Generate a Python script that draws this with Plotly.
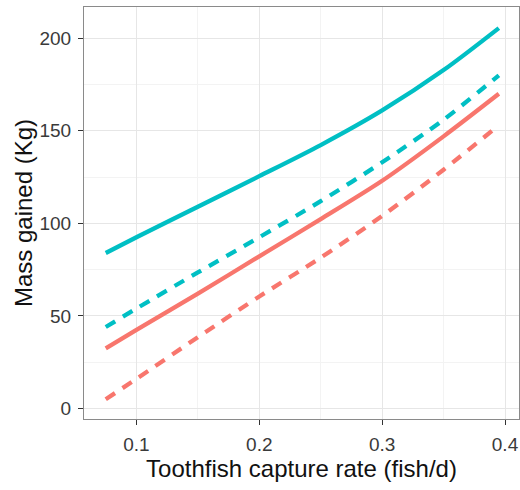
import plotly.graph_objects as go

capture_rate = [0.075, 0.1, 0.15, 0.2, 0.25, 0.3, 0.35, 0.395]
cyan_solid = [84, 92.5, 109, 125.5, 142.3, 161, 182.8, 205.5]
cyan_dashed = [44, 54, 73.5, 92.5, 112, 133, 156, 180]
red_solid = [32.5, 42.5, 62, 82.2, 102.3, 123, 147, 170]
red_dashed = [5, 16, 38.5, 60.5, 81.5, 104, 129, 153]

x_ticks = [0.1, 0.2, 0.3, 0.4]
x_tick_labels = ["0.1", "0.2", "0.3", "0.4"]
y_ticks = [0, 50, 100, 150, 200]
y_tick_labels = ["0", "50", "100", "150", "200"]

RED = "#F8766D"
CYAN = "#00BFC4"

series = [
    (cyan_solid, CYAN, "solid"),
    (cyan_dashed, CYAN, "11px,9px"),
    (red_solid, RED, "solid"),
    (red_dashed, RED, "11px,9px"),
]

fig = go.Figure()
for ys, col, dash in series:
    fig.add_trace(go.Scatter(
        x=capture_rate, y=ys, mode="lines",
        line=dict(color=col, width=4.3, dash=dash, shape="spline", smoothing=0.8),
        showlegend=False, hoverinfo="skip",
    ))

FONT = "Liberation Sans, Arial, sans-serif"
axis_common = dict(
    showline=True, linecolor="#8a8a8a", linewidth=1, mirror=True,
    ticks="outside", ticklen=5, tickcolor="#333333", tickwidth=1,
    gridcolor="#e6e6e6", gridwidth=1, zeroline=False, automargin=False,
    ticklabelstandoff=3,
    tickfont=dict(family=FONT, size=19, color="#3a3a3a"),
)

fig.update_layout(
    width=520, height=490,
    margin=dict(l=84, r=1, t=7, b=71),
    paper_bgcolor="white", plot_bgcolor="white",
    font=dict(family=FONT, color="#111111"),
    xaxis=dict(
        range=[0.0573, 0.4114], tickvals=x_ticks, ticktext=x_tick_labels,
        title=dict(text="Toothfish capture rate (fish/d)", font=dict(size=24), standoff=4),
        minor=dict(tickvals=[0.15, 0.25, 0.35], showgrid=True, gridcolor="#f3f3f3", ticks=""),
        **axis_common,
    ),
    yaxis=dict(
        range=[-5.7, 216.9], tickvals=y_ticks, ticktext=y_tick_labels,
        title=dict(text="Mass gained (Kg)", font=dict(size=24), standoff=0),
        minor=dict(tickvals=[25, 75, 125, 175], showgrid=True, gridcolor="#f3f3f3", ticks=""),
        **axis_common,
    ),
)

fig.write_html("out.html", config={"displayModeBar": False},
               post_script="document.body.style.margin='0';")
